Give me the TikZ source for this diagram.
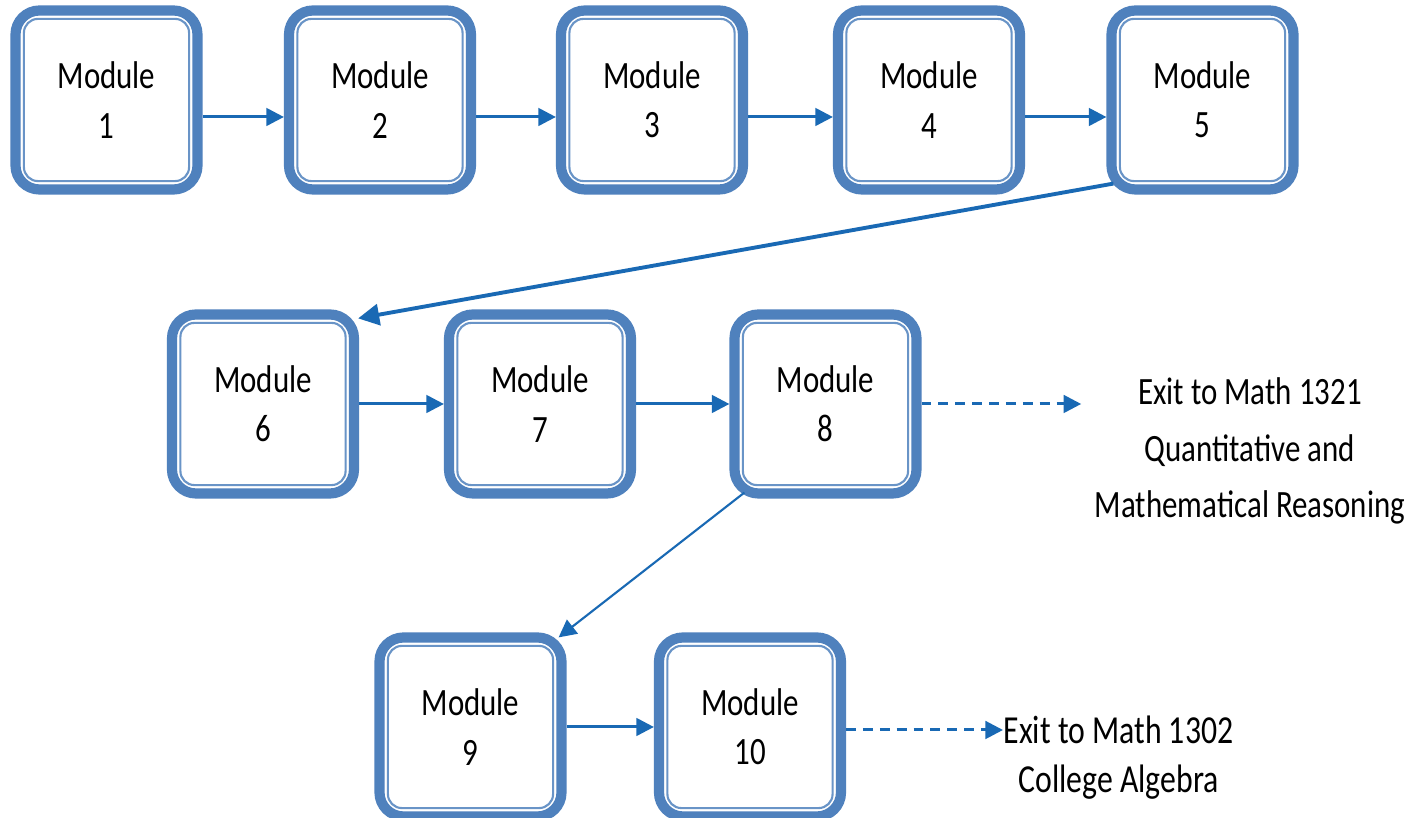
\documentclass[tikz,border=0pt]{standalone}
\usepackage{fontspec}
\setmainfont{Carlito}[FakeStretch=0.8]
\usetikzlibrary{arrows.meta}
\definecolor{boxblue}{RGB}{79,129,189}
\definecolor{arrowblue}{RGB}{25,105,180}

\begin{document}
\begin{tikzpicture}[
    module/.style={draw=boxblue,line width=2.9pt,rounded corners=0.24cm,
        minimum width=1.82cm,minimum height=1.79cm,inner sep=0pt,align=center,
        font=\fontsize{11}{14}\selectfont,
        append after command={\pgfextra{\draw[boxblue!85,line width=0.6pt,rounded corners=0.14cm]
            ([shift={(0.135,-0.135)}]\tikzlastnode.north west) rectangle
            ([shift={(-0.135,0.135)}]\tikzlastnode.south east);}}},
    flow/.style={draw=arrowblue,line width=0.85pt,-{Triangle[length=5pt,width=5pt]}},
    exitflow/.style={flow,dash pattern=on 2.8pt off 2pt},
    exittext/.style={align=center,inner sep=0pt}
    ]
        \useasboundingbox[fill=white] (0,0) rectangle (14.19,-8.18);

        \node[module] (m1) at (1.065,-1.00){Module\\1};
        \node[module] (m2) at (3.80,-1.00){Module\\2};
        \node[module] (m3) at (6.52,-1.00){Module\\3};
        \node[module] (m4) at (9.29,-1.00){Module\\4};
        \node[module] (m5) at (12.025,-1.00){Module\\5};

        \node[module] (m6) at (2.63,-4.04){Module\\6};
        \node[module] (m7) at (5.40,-4.04){Module\\7};
        \node[module] (m8) at (8.255,-4.04){Module\\8};

        \node[module] (m9) at (4.705,-7.27){Module\\9};
        \node[module] (m10) at (7.50,-7.27){Module\\10};

        \node[exittext,font=\fontsize{11}{16}\selectfont] (exit1) at (12.50,-4.51){Exit to Math 1321\\Quantitative and\\Mathematical Reasoning};
        \node[exittext,font=\fontsize{11.3}{14}\selectfont,anchor=west] (exit2) at (10.03,-7.58){Exit to Math 1302\\College Algebra};

        \draw[flow] ([yshift=-0.17cm]m1.east) -- ([yshift=-0.17cm]m2.west);
        \draw[flow] ([yshift=-0.17cm]m2.east) -- ([yshift=-0.17cm]m3.west);
        \draw[flow] ([yshift=-0.17cm]m3.east) -- ([yshift=-0.17cm]m4.west);
        \draw[flow] ([yshift=-0.17cm]m4.east) -- ([yshift=-0.17cm]m5.west);
        \draw[flow,line width=1.1pt,-{Triangle[length=6pt,width=6pt]}] ([shift={(0.07,0.11)}]m5.south west) -- ([shift={(-0.01,-0.09)}]m6.north east);
        \draw[flow] (m6) -- (m7);
        \draw[flow] (m7) -- (m8);
        \draw[exitflow,shorten >=0.13cm] (m8.east) -- (m8.east -| exit1.west);
        \draw[flow,line width=0.6pt] ([shift={(0.15,0.06)}]m8.south west) -- ([shift={(-0.08,-0.05)}]m9.north east);
        \draw[flow] (m9) -- (m10);
        \draw[exitflow] ([yshift=-0.03cm]m10.east) -- ([yshift=-0.03cm]m10.east -| exit2.west);
    \end{tikzpicture}
\end{document}
